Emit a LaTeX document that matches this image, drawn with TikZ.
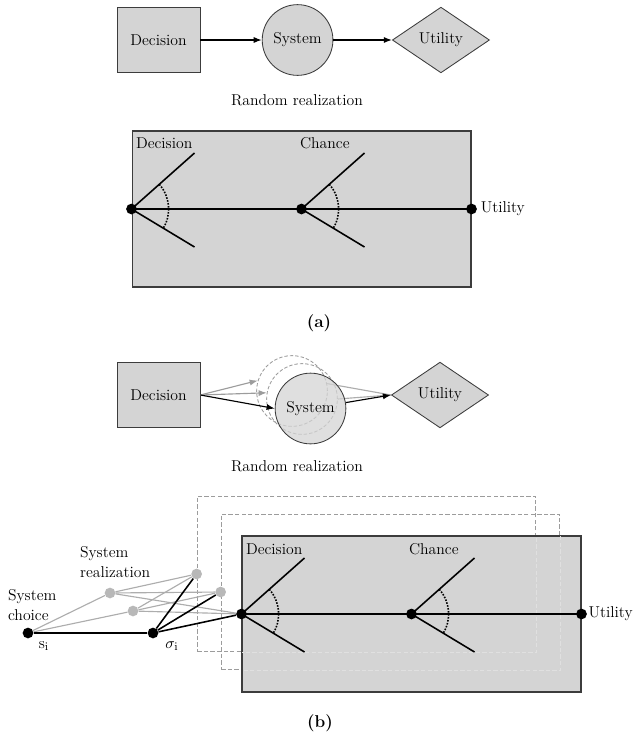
\documentclass[tikz,border=0pt]{standalone}
\usepackage{tikz}
\usetikzlibrary{arrows.meta,positioning,shapes.geometric}
\definecolor{panel}{HTML}{D4D4D4}
\definecolor{edge}{HTML}{3C3C3C}
\definecolor{ghost}{HTML}{9C9C9C}
\definecolor{ghostlight}{HTML}{E0E0E0}
\definecolor{ghostdotc}{HTML}{B8B8B8}
\definecolor{ghostlinec}{HTML}{ADADAD}
\tikzset{
  choicebox/.style={draw=edge, fill=panel, line width=0.6pt,
    minimum width=58pt, minimum height=46pt},
  chancecirc/.style={circle, draw=edge, fill=panel, line width=0.6pt,
    minimum size=49.5pt, inner sep=0pt},
  valuediam/.style={diamond, draw=edge, fill=panel, line width=0.6pt,
    minimum width=68pt, minimum height=46pt, inner sep=0pt},
  ghostcirc/.style={circle, draw=ghost, dash pattern=on 2.4pt off 1.4pt,
    line width=0.6pt, minimum size=49.5pt, inner sep=0pt},
  panelbox/.style={draw=edge, fill=panel, line width=1pt, inner sep=0pt,
    minimum width=237pt, minimum height=109pt},
  ghostpanel/.style={draw=ghost, dash pattern=on 3pt off 1.6pt, line width=0.8pt,
    inner sep=0pt, minimum width=237pt, minimum height=109pt},
  dot/.style={circle, fill=black, inner sep=0pt, minimum size=7.5pt},
  ghostdot/.style={circle, fill=ghostdotc, inner sep=0pt, minimum size=7.5pt},
  branch/.style={line width=1.1pt},
  arcdot/.style={densely dotted, line width=1.1pt},
  arr/.style={-{Latex[length=2mm]}, line width=0.8pt},
  ghostarr/.style={-{Latex[length=2mm]}, line width=0.8pt, draw=ghost},
  ghostline/.style={line width=0.8pt, draw=ghostlinec},
  caption/.style={font=\fontsize{12}{14}\selectfont\bfseries}
}

\begin{document}
\begin{tikzpicture}[x=0.7pt, y=-0.7pt, node distance=43pt, font=\fontsize{11}{13.5}\selectfont]
    \useasboundingbox (0,0) rectangle (633,738);
    % (a) influence diagram
    \node[choicebox] (decA) at (158.5,40) {Decision};
    \node[chancecirc, right=of decA] (sysA) {System};
    \node[valuediam, right=41pt of sysA] (utilA) {Utility};
    \draw[arr] (decA) -- (sysA);
    \draw[arr] (sysA) -- (utilA);
    \node (randA) at (297,100) {Random realization};
    % (a) decision tree
    \node[panelbox] (treeA) at (301.5,209) {};
    \node[dot] (dA) at (treeA.west) {};
    \node[dot] (cA) at (treeA.center) {};
    \node[dot] (uA) at (treeA.east) {};
    \draw[branch] (dA.center) -- (cA.center) -- (uA.center);
    \foreach \n in {dA,cA} {
      \draw[branch] (\n.center) -- ++(63,-56);
      \draw[branch] (\n.center) -- ++(63,38);
      \draw[arcdot] ([shift={(41.6:26pt)}]\n.center) arc[start angle=41.6, end angle=-31, radius=26pt];
    }
    \node[anchor=west] (decLabA) at (131,143) {Decision};
    \node[anchor=west] (chLabA) at (295,143) {Chance};
    \node[right=-1pt of uA] (utLabA) {Utility};
    \node[caption] (capA) at (319,323) {(a)};

    % (b) influence diagram with realizations
    \node[choicebox] (decB) at (158.5,395) {Decision};
    \node[ghostcirc] (sysG1) at (292,391) {};
    \node[ghostcirc] (sysG2) at (302,399) {};
    \node[valuediam] (utilB) at (440,395) {Utility};
    \draw[ghostarr] (decB.east) -- (sysG1.163);
    \draw[ghostarr] (decB.east) -- (sysG2.170);
    \draw[ghostline] (sysG1.12) -- (utilB.west);
    \draw[ghostline] (sysG2.east) -- (utilB.west);
    \node[chancecirc, fill opacity=0.75, text opacity=1] (sysB) at (310.5,408.5) {System};
    \draw[arr] (decB.east) -- (sysB.west);
    \draw[arr] (sysB) -- (utilB.west);
    \node (randB) at (297,466) {Random realization};

    % (b) decision tree with realizations
    \node[ghostpanel] (treeG1) at (366.5,574) {};
    \node[ghostpanel] (treeG2) at (390.5,592) {};
    \node[panelbox] (treeB) at (411.5,614) {};
    \begin{scope}
      \clip (treeB.south west) rectangle (treeB.north east);
      \draw[ghostpanel, draw=ghostlight] (treeG1.south west) rectangle (treeG1.north east);
      \draw[ghostpanel, draw=ghostlight] (treeG2.south west) rectangle (treeG2.north east);
    \end{scope}
    \draw[draw=edge, line width=1pt] (treeB.south west) rectangle (treeB.north east);
    \node[dot] (dB) at (treeB.west) {};
    \node[dot] (cB) at (treeB.center) {};
    \node[dot] (uB) at (treeB.east) {};
    \draw[branch] (dB.center) -- (cB.center) -- (uB.center);
    \foreach \n in {dB,cB} {
      \draw[branch] (\n.center) -- ++(63,-56);
      \draw[branch] (\n.center) -- ++(63,38);
      \draw[arcdot] ([shift={(41.6:26pt)}]\n.center) arc[start angle=41.6, end angle=-31, radius=26pt];
    }
    \node[anchor=west] (decLabB) at (241,549) {Decision};
    \node[anchor=west] (chLabB) at (404,549) {Chance};
    \node[right=-2.5pt of uB] (utLabB) {Utility};

    % system choice and realizations
    \node[dot] (si) at (28,633) {};
    \node[dot] (sigma) at (153,633) {};
    \node[ghostdot] (sigG1) at (110,593) {};
    \node[ghostdot] (sigG2) at (133,611) {};
    \node[ghostdot] (dG1) at (treeG1.west) {};
    \node[ghostdot] (dG2) at (treeG2.west) {};
    \foreach \s in {sigG1,sigG2} {
      \draw[ghostline] (si) -- (\s);
      \foreach \d in {dG1,dG2,dB} \draw[ghostline] (\s) -- (\d);
    }
    \draw[branch] (si) -- (sigma);
    \foreach \d in {dG1,dG2,dB} \draw[branch] (sigma) -- (\d);
    \node[anchor=west, align=left] (realLab) at (75,562) {System\\realization};
    \node[anchor=west, align=left] (choiceLab) at (3,605) {System\\choice};
    \node (siLab) at (44,646) {s$_\mathrm{i}$};
    \node (sigmaLab) at (172,646) {$\sigma_\mathrm{i}$};
    \node[caption] (capB) at (320,723) {(b)};
  \end{tikzpicture}
\end{document}
